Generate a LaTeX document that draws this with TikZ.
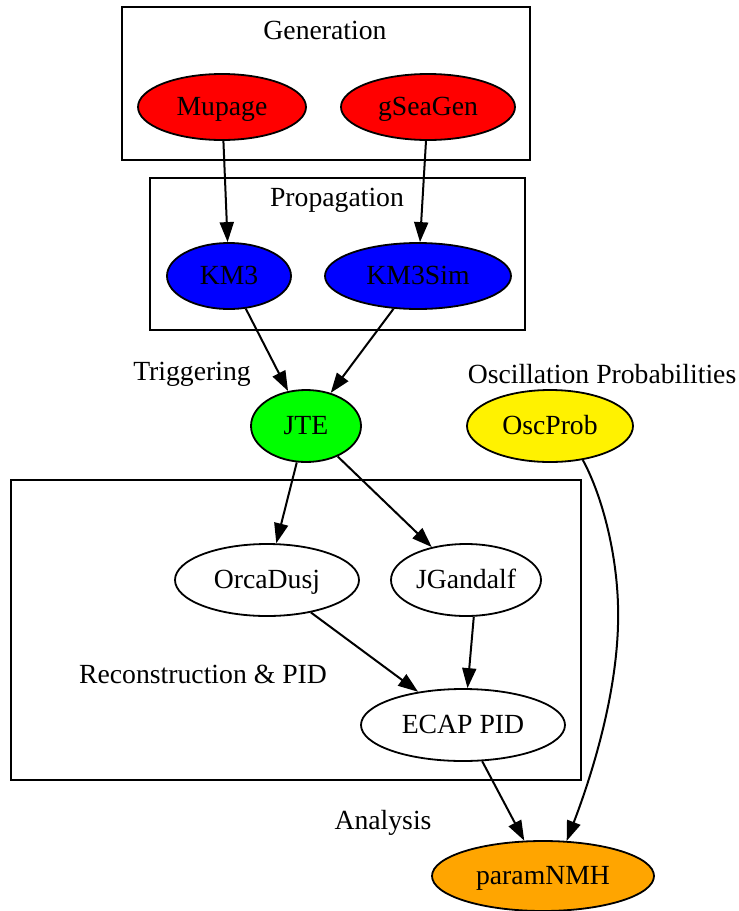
\documentclass[tikz,border=0pt]{standalone}
\usepackage{fontspec}
\setmainfont{Liberation Serif}
\usetikzlibrary{shapes.geometric,arrows.meta}
\definecolor{gvorange}{HTML}{FFA500}
\begin{document}
\begin{tikzpicture}[x=1pt,y=-1pt,
  every node/.style={font=\fontsize{27.7}{32}\selectfont},
  elli/.style={ellipse,draw,line width=1.8pt,inner sep=0pt,text depth=2pt},
  cluster/.style={draw,line width=1.8pt},
  lbl/.style={inner sep=0pt},
  conn/.style={line width=2pt,-{Triangle[length=20pt,width=14pt]}}]
\useasboundingbox (0,0) rectangle (739,911);
% clusters
\draw[cluster] (122,7) rectangle (530,160);
\draw[cluster] (150,178) rectangle (525,330);
\draw[cluster] (11,480) rectangle (581,780);
\node[lbl] (genlbl) at (325,30) {Generation};
\node[lbl] (proplbl) at (337,200) {Propagation};
\node[lbl] (trglbl) at (192,374) {Triggering};
\node[lbl] (osclbl) at (602,374) {Oscillation Probabilities};
\node[lbl] (recolbl) at (203,674) {Reconstruction \& PID};
\node[lbl] (analbl) at (383,823) {Analysis};
% nodes
\node[elli,fill=red,minimum width=168pt,minimum height=66pt] (mupage) at (222,107) {Mupage};
\node[elli,fill=red,minimum width=174pt,minimum height=66pt] (gsea) at (428,107) {gSeaGen};
\node[elli,fill=blue,minimum width=124pt,minimum height=66pt] (km3) at (229,276) {KM3};
\node[elli,fill=blue,minimum width=186pt,minimum height=66pt] (km3sim) at (418,276) {KM3Sim};
\node[elli,fill=green,minimum width=110pt,minimum height=72pt] (jte) at (306,426) {JTE};
\node[elli,fill=yellow,minimum width=166pt,minimum height=72pt] (osc) at (550,426) {OscProb};
\node[elli,minimum width=184pt,minimum height=72pt] (orca) at (267,580) {OrcaDusj};
\node[elli,minimum width=150pt,minimum height=72pt] (jgan) at (466,580) {JGandalf};
\node[elli,minimum width=204pt,minimum height=72pt] (ecap) at (463,725) {ECAP PID};
\node[elli,fill=gvorange,minimum width=222pt,minimum height=70pt] (nmh) at (543,876) {paramNMH};
% edges
\draw[conn] (mupage) -- (km3);
\draw[conn] (gsea) -- (km3sim);
\draw[conn] (km3) -- (jte);
\draw[conn] (km3sim) -- (jte);
\draw[conn] (jte) -- (orca);
\draw[conn] (jte) -- (jgan);
\draw[conn] (orca) -- (ecap);
\draw[conn] (jgan.282) -- (ecap.83);
\draw[conn] (ecap) -- (nmh);
\draw[conn] (osc.-46) .. controls (602,495) and (620,560) .. (618,625) .. controls (616,700) and (590,780) .. (nmh.56);
\end{tikzpicture}
\end{document}
